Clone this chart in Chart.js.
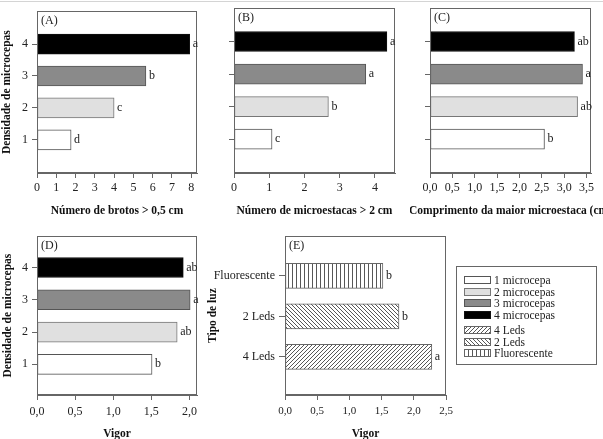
<!DOCTYPE html>
<html><head><meta charset="utf-8">
<script src="https://cdn.jsdelivr.net/npm/chart.js@4/dist/chart.umd.min.js"></script>
<style>
html,body{margin:0;padding:0;background:#fff;overflow:hidden;width:603px;height:439px;position:relative}
canvas.ch{position:absolute}
#topline{position:absolute;left:0;top:1px;width:603px;height:1px;background:#d4d4d4}
#legend{position:absolute;left:456px;top:266px;width:141px;height:99px;border:1px solid #666;box-sizing:border-box;font:11.5px "Liberation Serif",serif;color:#222}
.row{position:absolute;left:7px;height:12px;display:flex;align-items:center;white-space:nowrap}
.row canvas{margin-right:3px;display:block}
</style></head><body>
<div id="topline"></div>
<canvas id="cA" class="ch" width="209" height="225" style="left:0;top:0"></canvas>
<canvas id="cB" class="ch" width="193" height="225" style="left:214px;top:0"></canvas>
<canvas id="cC" class="ch" width="193" height="225" style="left:410px;top:0"></canvas>
<canvas id="cD" class="ch" width="209" height="224" style="left:0;top:225px"></canvas>
<canvas id="cE" class="ch" width="258" height="224" style="left:200px;top:225px"></canvas>
<div id="legend"></div>
<script>
// ---- data ----
const densidade = [1, 2, 3, 4];
const densLabels = ['1', '2', '3', '4'];
const brotosA = [1.77, 4.0, 5.65, 7.92];
const letrasA = ['d', 'c', 'b', 'a'];
const microestacasB = [1.08, 2.68, 3.74, 4.34];
const letrasB = ['c', 'b', 'a', 'a'];
const comprimentoC = [2.56, 3.30, 3.41, 3.23];
const letrasC = ['b', 'ab', 'a', 'ab'];
const vigorD = [1.51, 1.84, 2.01, 1.92];
const letrasD = ['b', 'ab', 'a', 'ab'];
const tipoLuz = ['4 Leds', '2 Leds', 'Fluorescente'];
const vigorE = [2.28, 1.77, 1.52];
const letrasE = ['a', 'b', 'b'];
const legendLabels = ['1 microcepa', '2 microcepas', '3 microcepas', '4 microcepas', '4 Leds', '2 Leds', 'Fluorescente'];

// ---- styles ----
const FONT = 'Liberation Serif';
const TITLE_SIZE = 11.5;
function hatch(kind) {
  const s = 4;
  const c = document.createElement('canvas'); c.width = s; c.height = s;
  const g = c.getContext('2d');
  g.fillStyle = '#fff'; g.fillRect(0, 0, s, s);
  g.strokeStyle = '#444'; g.lineWidth = 0.9;
  g.beginPath();
  if (kind === 'v') { g.moveTo(0.5, 0); g.lineTo(0.5, s); }
  else if (kind === '/') { g.moveTo(0, s); g.lineTo(s, 0); g.moveTo(-1, 1); g.lineTo(1, -1); g.moveTo(s - 1, s + 1); g.lineTo(s + 1, s - 1); }
  else { g.moveTo(0, 0); g.lineTo(s, s); g.moveTo(-1, s - 1); g.lineTo(1, s + 1); g.moveTo(s - 1, -1); g.lineTo(s + 1, 1); }
  g.stroke();
  return g.createPattern(c, 'repeat');
}
const densFill = ['#ffffff', '#e0e0e0', '#8a8a8a', '#000000'];
const densBorder = ['#555', '#777', '#555', '#111'];
const luzFill = [hatch('/'), hatch('\\'), hatch('v')];
const luzBorder = ['#666', '#666', '#666'];

const boxPlugin = {
  id: 'box',
  afterDatasetsDraw(chart, args, opts) {
    const { ctx, chartArea: a } = chart;
    ctx.save();
    ctx.strokeStyle = '#666'; ctx.lineWidth = 1;
    ctx.strokeRect(Math.round(a.left) + 0.5, Math.round(a.top) + 0.5, Math.round(a.right - a.left) - 1, Math.round(a.bottom - a.top) - 1);
    ctx.fillStyle = '#222';
    ctx.font = (opts.letterSize || 12) + 'px "' + FONT + '"';
    ctx.textBaseline = 'middle'; ctx.textAlign = 'left';
    chart.getDatasetMeta(0).data.forEach((bar, i) => ctx.fillText(opts.letters[i], bar.x + 3, bar.y));
    if (opts.panel) { ctx.textAlign = 'left'; ctx.font = '12px "' + FONT + '"'; ctx.fillText(opts.panel, a.left + 4, a.top + 10); }
    if (opts.xTitle) {
      ctx.fillStyle = '#111';
      ctx.font = 'bold ' + TITLE_SIZE + 'px "' + FONT + '"'; ctx.textAlign = 'center';
      ctx.fillText(opts.xTitle, (a.left + a.right) / 2, opts.xTitleY);
    }
    ctx.restore();
  }
};

function comma(v) { return v.toFixed(1).replace('.', ','); }

function makeChart(id, c) {
  return new Chart(document.getElementById(id), {
    type: 'bar',
    data: { datasets: [{
      data: c.pos.map((p, i) => ({ x: c.values[i], y: p })),
      backgroundColor: c.fill, borderColor: c.border, borderWidth: 1,
      borderSkipped: false, barThickness: c.thick
    }] },
    options: {
      indexAxis: 'y', responsive: false, animation: false, events: [],
      layout: { padding: { top: c.padTop, right: c.padRight, left: 0, bottom: 0 } },
      plugins: { legend: { display: false }, tooltip: { enabled: false },
        box: { letters: c.letters, panel: c.panel, xTitle: c.customXTitle, xTitleY: c.customXTitleY } },
      scales: {
        x: {
          type: 'linear', min: 0, max: c.xMax, offset: false,
          ticks: { stepSize: c.step, includeBounds: false, padding: c.xTickPad, color: '#222', maxRotation: 0, autoSkip: false,
            font: { family: FONT, size: c.xTickSize || 12 }, callback: c.fmt },
          grid: { drawOnChartArea: false, drawTicks: true, tickLength: 5, color: '#666', offset: false },
          border: { color: '#666' },
          title: { display: !!c.xTitle, text: c.xTitle || '', color: '#111',
            font: { family: FONT, size: TITLE_SIZE, weight: 'bold' }, padding: { top: 0, bottom: c.xTitlePad } },
          afterFit: s => { s.height = c.xH; }
        },
        y: {
          type: 'linear', min: c.yMin, max: c.yMax, offset: false,
          afterBuildTicks: s => { s.ticks = c.pos.map(v => ({ value: v })); },
          ticks: { display: !!c.yLabels, padding: c.yTickPad || 4, color: '#222', autoSkip: false,
            font: { family: FONT, size: c.yTickSize || 12 }, callback: (v, i) => c.yLabels ? c.yLabels[i] : '' },
          grid: { drawOnChartArea: false, drawTicks: true, tickLength: c.yTickLen || 5, color: '#666', offset: false },
          border: { color: '#666' },
          title: { display: !!c.yTitle, text: c.yTitle || '', color: '#111',
            font: { family: FONT, size: TITLE_SIZE, weight: 'bold' }, padding: { top: c.yTitlePad || 0, bottom: 0 } },
          afterFit: s => { s.width = c.yW; }
        }
      }
    },
    plugins: [boxPlugin]
  });
}

const rowTop = { padTop: 8, xH: 52, xTickPad: 3, xTitlePad: 7.3, yMin: -0.04, yMax: 5.03, thick: 20 };
makeChart('cA', Object.assign({}, rowTop, {
  pos: densidade, values: brotosA, letters: letrasA, fill: densFill, border: densBorder, panel: '(A)',
  padRight: 12, xMax: 8.3, step: 1, fmt: v => String(v), xTitle: 'Número de brotos > 0,5 cm',
  yLabels: densLabels, yTitle: 'Densidade de microcepas', yW: 37
}));
makeChart('cB', Object.assign({}, rowTop, {
  pos: densidade, values: microestacasB, letters: letrasB, fill: densFill, border: densBorder, panel: '(B)',
  padRight: 12, xMax: 4.57, step: 1, fmt: v => String(v), xTitle: 'Número de microestacas > 2 cm', yW: 20
}));
makeChart('cC', Object.assign({}, rowTop, {
  pos: densidade, values: comprimentoC, letters: letrasC, fill: densFill, border: densBorder, panel: '(C)',
  padRight: 12, xMax: 3.6, step: 0.5, fmt: comma, customXTitle: 'Comprimento da maior microestaca (cm)', customXTitleY: 211, yW: 20
}));
makeChart('cD', {
  pos: densidade, values: vigorD, letters: letrasD, fill: densFill, border: densBorder, panel: '(D)',
  padTop: 8, padRight: 12, xH: 54, xTickPad: 4.5, xTitlePad: 8.3, yMin: 0.05, yMax: 4.97, thick: 20,
  xMax: 2.1, step: 0.5, fmt: comma, xTitle: 'Vigor',
  yLabels: densLabels, yTitle: 'Densidade de microcepas', yTitlePad: 0.8, yW: 37
});
makeChart('cE', {
  pos: [1, 2, 3], values: vigorE, letters: letrasE, fill: luzFill, border: luzBorder, panel: '(E)',
  padTop: 8, padRight: 12, xH: 54, xTickPad: 4.5, xTitlePad: 8.3, yMin: 0.06, yMax: 3.98, thick: 25,
  xMax: 2.5, step: 0.5, fmt: comma, xTitle: 'Vigor', xTickSize: 11,
  yLabels: tipoLuz, yTitle: 'Tipo de luz', yTitlePad: 6, yW: 85, yTickLen: 6, yTickPad: 4
});

// ---- legend ----
const legendFills = [...densFill, ...luzFill];
const legendBorders = [...densBorder, ...luzBorder];
const rowY = [13, 24.5, 36, 47.5, 63, 74.5, 86];
const leg = document.getElementById('legend');
legendLabels.forEach((lab, i) => {
  const r = document.createElement('div'); r.className = 'row';
  r.style.top = (rowY[i] - 6) + 'px';
  const sw = document.createElement('canvas'); sw.width = 27; sw.height = 8;
  const g = sw.getContext('2d');
  g.fillStyle = legendFills[i]; g.fillRect(0, 0, 27, 8);
  g.strokeStyle = legendBorders[i]; g.lineWidth = 1; g.strokeRect(0.5, 0.5, 26, 7);
  r.appendChild(sw);
  const t = document.createElement('span'); t.textContent = lab; r.appendChild(t);
  leg.appendChild(r);
});
</script>
</body></html>
